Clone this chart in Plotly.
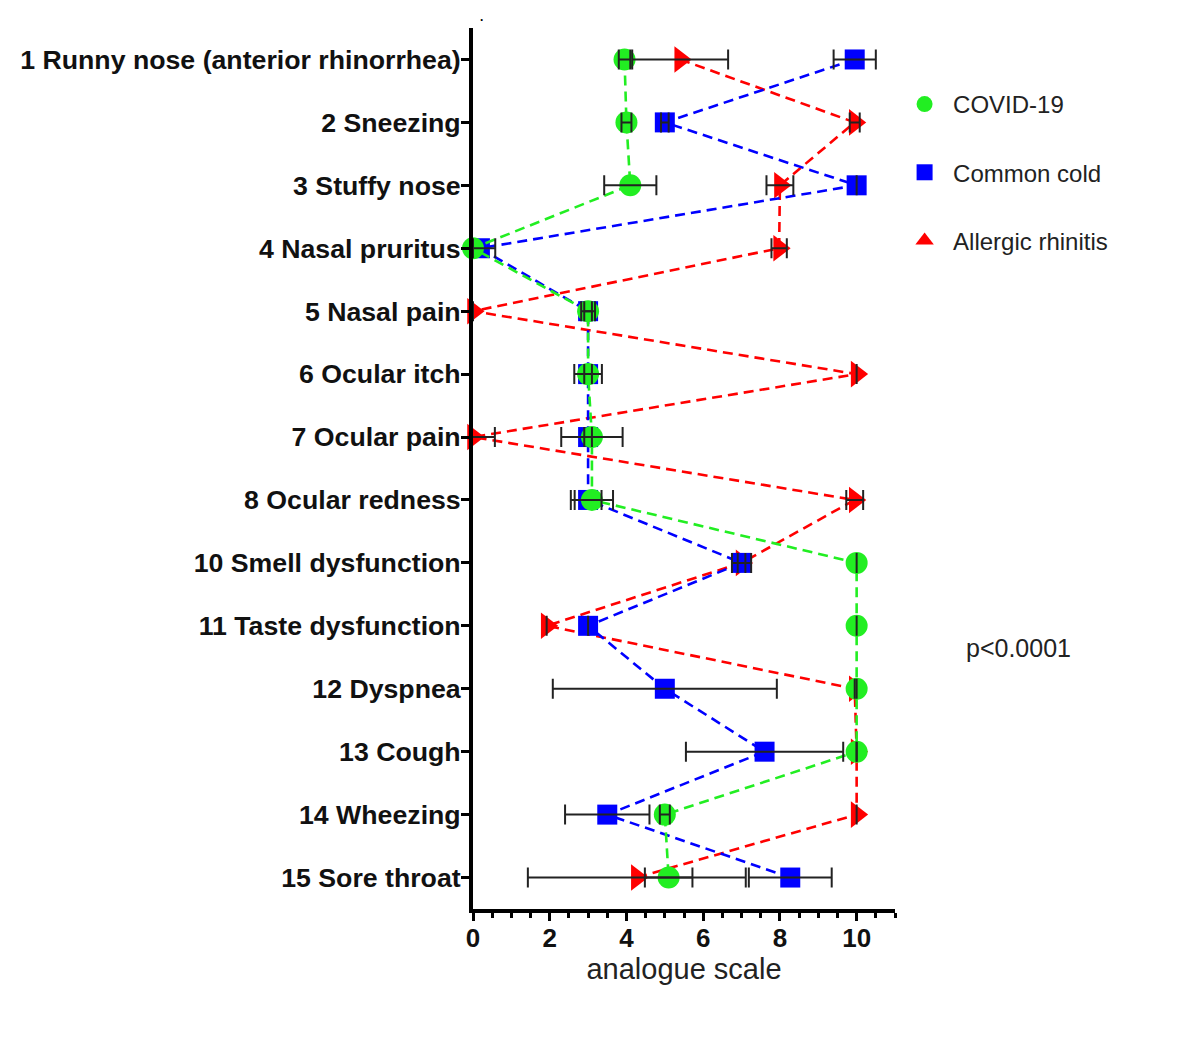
import plotly.graph_objects as go

# ---- data ----
symptoms = [
    "1 Runny nose (anterior rhinorrhea)", "2 Sneezing", "3 Stuffy nose",
    "4 Nasal pruritus", "5 Nasal pain", "6 Ocular itch", "7 Ocular pain",
    "8 Ocular redness", "10 Smell dysfunction", "11 Taste dysfunction",
    "12 Dyspnea", "13 Cough", "14 Wheezing", "15 Sore throat",
]
covid = [3.95, 4.0, 4.1, 0.0, 3.0, 3.0, 3.1, 3.1, 10.0, 10.0, 10.0, 10.0, 5.0, 5.1]
covid_err = [0.15, 0.13, 0.68, 0.0, 0.18, 0.36, 0.8, 0.55, 0.0, 0.0, 0.0, 0.0, 0.13, 0.62]
cold = [9.95, 5.0, 10.0, 0.18, 3.0, 3.0, 3.0, 3.0, 7.0, 3.0, 5.0, 7.6, 3.5, 8.27]
cold_err = [0.55, 0.1, 0.0, 0.4, 0.1, 0.1, 0.1, 0.35, 0.25, 0.0, 2.92, 2.05, 1.1, 1.08]
allergic = [5.4, 9.95, 8.0, 7.98, 0.0, 10.0, 0.0, 9.95, 7.0, 1.92, 9.95, 10.0, 10.0, 4.27]
allergic_err = [1.25, 0.13, 0.35, 0.2, 0.0, 0.0, 0.57, 0.22, 0.1, 0.0, 0.0, 0.0, 0.0, 2.84]

series_names = ["COVID-19", "Common cold", "Allergic rhinitis"]
x_ticks = [0, 2, 4, 6, 8, 10]

GREEN = "#22ee22"
BLUE = "#0000ff"
RED = "#ff0000"
FONT = "Liberation Sans, Arial, sans-serif"

fig = go.Figure()

# data traces (allergic drawn first, COVID on top)
specs = [
    (allergic, RED, "triangle-right", 23),
    (cold, BLUE, "square", 20),
    (covid, GREEN, "circle", 22),
]
for vals, col, sym, size in specs:
    fig.add_trace(go.Scatter(
        x=vals, y=symptoms, mode="lines+markers",
        line=dict(color=col, width=2.6, dash="10px,6px"),
        marker=dict(color=col, symbol=sym, size=size, line=dict(width=0)),
        showlegend=False, cliponaxis=False, hoverinfo="x+y",
    ))

# error bars on top
for vals, errs in [(allergic, allergic_err), (cold, cold_err), (covid, covid_err)]:
    fig.add_trace(go.Scatter(
        x=vals, y=symptoms, mode="markers",
        marker=dict(size=1, opacity=0),
        error_x=dict(type="data", array=errs, visible=True, color="#222222",
                     thickness=2, width=10),
        showlegend=False, cliponaxis=False, hoverinfo="skip",
    ))

# legend entries
for name, col, sym, grp in [(series_names[0], GREEN, "circle", "a"),
                            (series_names[1], BLUE, "square", "b"),
                            (series_names[2], RED, "triangle-up", "c")]:
    fig.add_trace(go.Scatter(
        x=[None], y=[None], mode="markers", name=name, legendgroup=grp,
        marker=dict(color=col, symbol=sym, size=22),
    ))

fig.update_layout(
    width=1167, height=1042,
    margin=dict(l=465, r=280, t=20, b=141, autoexpand=False),
    paper_bgcolor="white", plot_bgcolor="white",
    font=dict(family=FONT, color="#111111"),
    showlegend=True,
    legend=dict(
        x=0.761, xref="container", xanchor="left",
        y=0.929, yref="container", yanchor="top",
        font=dict(size=24, family=FONT, color="#222222"),
        traceorder="grouped", tracegroupgap=34, itemwidth=47,
        bgcolor="rgba(0,0,0,0)", itemsizing="trace",
    ),
    xaxis=dict(
        range=[0, 11], tickvals=x_ticks, ticktext=[str(t) for t in x_ticks],
        showgrid=False, zeroline=False, automargin=False,
        showline=True, linecolor="black", linewidth=4,
        ticks="outside", ticklen=8, tickwidth=3, tickcolor="black",
        minor=dict(dtick=0.5, ticks="outside", ticklen=5, tickwidth=3,
                   tickcolor="black", showgrid=False),
        tickfont=dict(size=26, family=FONT, weight="bold", color="#111111"),
        ticklabelstandoff=-5,
        title=dict(text="analogue scale", font=dict(size=29, family=FONT, color="#222222"),
                   standoff=0),
    ),
    yaxis=dict(
        type="category", categoryorder="array", categoryarray=symptoms,
        range=[13.5, -0.5], automargin=False,
        showgrid=False, zeroline=False,
        showline=True, linecolor="black", linewidth=4,
        ticks="outside", ticklen=8, tickwidth=3, tickcolor="black",
        tickfont=dict(size=26.7, family=FONT, weight="bold", color="#111111"),
        ticklabelstandoff=-5,
    ),
    annotations=[
        dict(text="p<0.0001", xref="paper", yref="paper", x=1.2915, y=0.296,
             xanchor="center", yanchor="middle",
             showarrow=False, font=dict(size=25, family=FONT, color="#222222")),
        dict(text=".", xref="paper", yref="paper", x=0.019, y=1.0227,
             xanchor="center", yanchor="top", showarrow=False,
             font=dict(size=12, family=FONT, weight="bold", color="black")),
    ],
)

fig.write_html("out.html")
